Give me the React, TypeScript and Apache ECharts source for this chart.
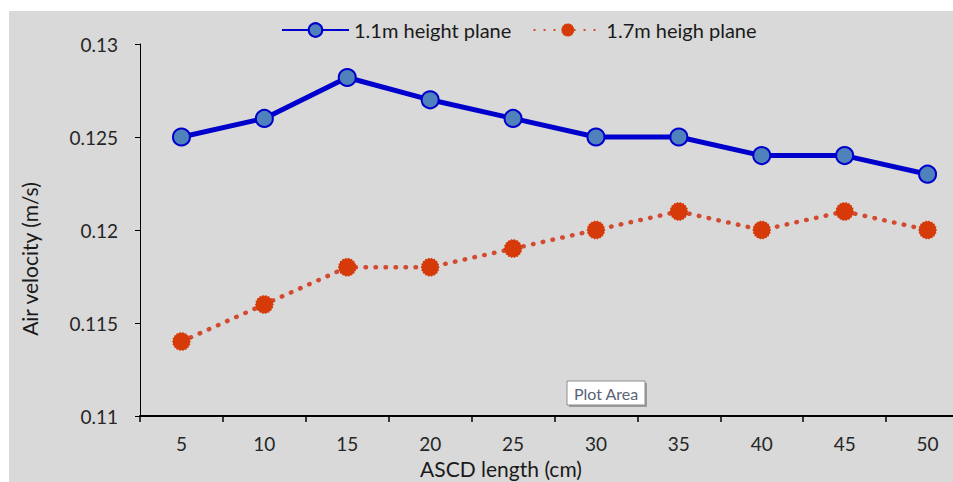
import React, { useEffect, useRef } from "react";
import * as echarts from "echarts";

const categories = ["5", "10", "15", "20", "25", "30", "35", "40", "45", "50"];
const series11 = [0.125, 0.126, 0.1282, 0.127, 0.126, 0.125, 0.125, 0.124, 0.124, 0.123];
const series17 = [0.114, 0.116, 0.118, 0.118, 0.119, 0.12, 0.121, 0.12, 0.121, 0.12];
const seriesNames = ["1.1m height plane", "1.7m heigh plane"];
const yTicks = { min: 0.11, max: 0.13, interval: 0.005 };

const FONT = "Lato";

function jaggedCircle(): string {
  const n = 18;
  const pts: string[] = [];
  for (let i = 0; i < n * 2; i++) {
    const r = i % 2 === 0 ? 50 : 44;
    const a = (Math.PI * i) / n;
    pts.push(`${(50 + r * Math.cos(a)).toFixed(2)} ${(50 + r * Math.sin(a)).toFixed(2)}`);
  }
  return "path://M" + pts.join(" L") + " Z";
}

export default function App() {
  const ref = useRef<HTMLDivElement>(null);
  useEffect(() => {
    if (!ref.current) return;
    const chart = echarts.init(ref.current, undefined, { renderer: "svg" });
    chart.setOption({
      animation: false,
      backgroundColor: "#D9D9D9",
      textStyle: { fontFamily: FONT },
      legend: {
        left: 267,
        top: 4,
        itemWidth: 67,
        itemHeight: 17,
        itemGap: 22,
        textStyle: { fontFamily: FONT, fontSize: 20, color: "#1a1a1a" },
        data: seriesNames,
      },
      grid: { left: 131, top: 33, width: 829, height: 372, containLabel: false },
      xAxis: {
        type: "category",
        data: categories,
        boundaryGap: true,
        axisLine: { lineStyle: { color: "#000", width: 2 } },
        axisTick: { show: true, length: 6, lineStyle: { color: "#000", width: 1.5 } },
        axisLabel: { fontFamily: FONT, fontSize: 19, color: "#262626", margin: 18 },
        splitLine: { show: false },
      },
      yAxis: {
        type: "value",
        min: yTicks.min,
        max: yTicks.max,
        interval: yTicks.interval,
        axisLine: { show: true, lineStyle: { color: "#000", width: 1 } },
        axisTick: { show: true, length: 5, lineStyle: { color: "#000" } },
        axisLabel: {
          fontFamily: FONT,
          fontSize: 19,
          color: "#262626",
          margin: 22,
          formatter: (v: number) => String(+v.toFixed(3)),
        },
        splitLine: { show: false },
      },
      graphic: [
        {
          type: "text",
          x: 20,
          y: 248,
          rotation: Math.PI / 2,
          style: {
            text: "Air velocity (m/s)",
            fontFamily: FONT,
            fontSize: 21,
            fill: "#1a1a1a",
            align: "center",
            verticalAlign: "middle",
          },
        },
        {
          type: "text",
          x: 492,
          y: 457,
          style: {
            text: "ASCD length (cm)",
            fontFamily: FONT,
            fontSize: 21,
            fill: "#1a1a1a",
            align: "center",
            verticalAlign: "middle",
          },
        },
        {
          type: "rect",
          shape: { x: 560, y: 372, width: 78, height: 24 },
          style: { fill: "#9a9a9a" },
          z: 100,
        },
        {
          type: "rect",
          shape: { x: 558, y: 370, width: 78, height: 24 },
          style: { fill: "#ffffff", stroke: "#8c8c8c", lineWidth: 1 },
          z: 101,
        },
        {
          type: "text",
          x: 597,
          y: 382,
          z: 102,
          style: {
            text: "Plot Area",
            fontFamily: FONT,
            fontSize: 16,
            fill: "#5B6477",
            align: "center",
            verticalAlign: "middle",
          },
        },
      ],
      series: [
        {
          name: seriesNames[0],
          type: "line",
          data: series11,
          symbol: "circle",
          symbolSize: 17,
          lineStyle: { color: "#0000CC", width: 5 },
          itemStyle: { color: "#4F81BD", borderColor: "#0000CC", borderWidth: 2 },
          z: 3,
        },
        {
          name: seriesNames[1],
          type: "line",
          data: series17,
          symbol: jaggedCircle(),
          symbolSize: 19,
          lineStyle: { color: "#D24A30", width: 4.5, type: [0.5, 9.5], cap: "round" },
          itemStyle: { color: "#D63A08", borderWidth: 0 },
          z: 2,
        },
      ],
    });
    return () => chart.dispose();
  }, []);
  return (
    <div
      style={{
        position: "absolute",
        left: 9,
        top: 11,
        width: 944,
        height: 471,
        overflow: "hidden",
        background: "#D9D9D9",
      }}
    >
      <div ref={ref} style={{ width: 970, height: 471 }} />
    </div>
  );
}
